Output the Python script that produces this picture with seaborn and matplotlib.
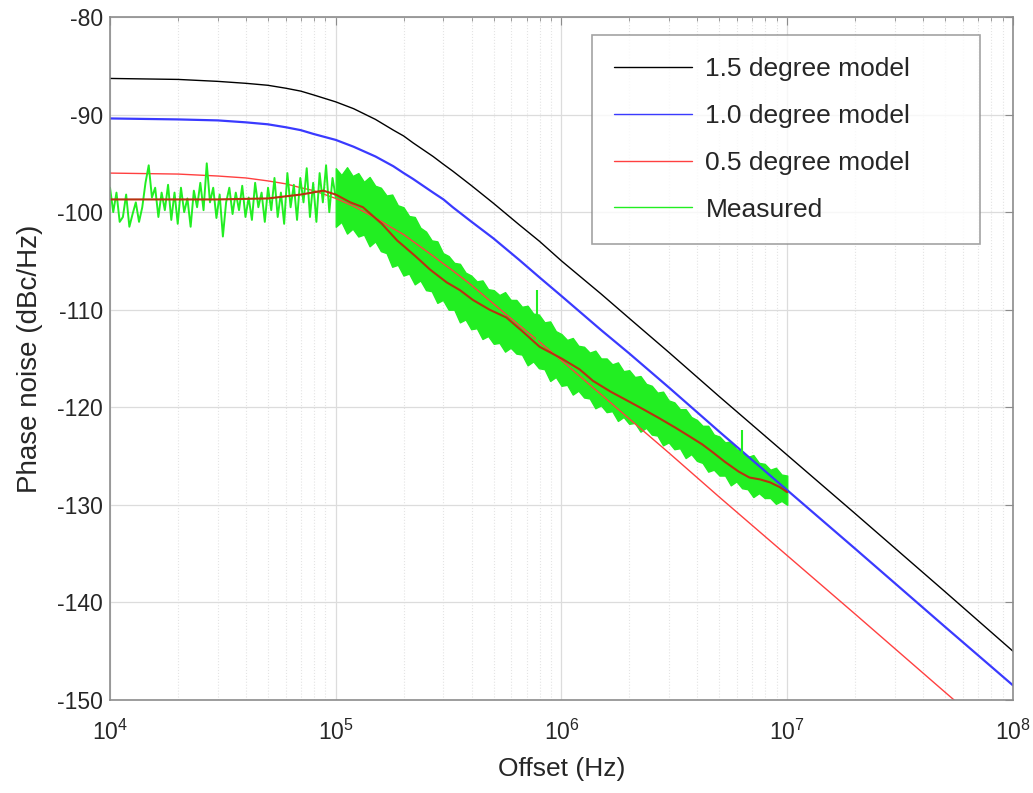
import numpy as np
import pandas as pd
import seaborn as sns
import matplotlib.pyplot as plt
from matplotlib.ticker import LogLocator, NullFormatter, MultipleLocator

# model curves (offset in Hz, phase noise in dBc/Hz)
model_freq = [1e4, 2e4, 3e4, 4e4, 5e4, 6e4, 7e4, 8e4, 1e5, 1.2e5, 1.5e5, 1.8e5, 2e5, 2.2e5,
              2.7e5, 3e5, 3.3e5, 4e5, 5e5, 6.5e5, 8e5, 1e6, 1.5e6, 2e6, 3e6, 5e6, 1e7,
              2e7, 5e7, 1e8]
model_15 = [-86.3, -86.4, -86.6, -86.8, -87.0, -87.3, -87.6, -88.0, -88.7, -89.4, -90.5,
            -91.6, -92.2, -92.9, -94.3, -95.1, -95.8, -97.3, -99.1, -101.3, -103.0, -105.0,
            -108.4, -110.9, -114.4, -118.9, -124.9, -130.9, -138.9, -145.0]
model_10 = [-90.4, -90.5, -90.6, -90.8, -91.0, -91.3, -91.6, -92.0, -92.6, -93.3, -94.3,
            -95.3, -96.0, -96.6, -98.0, -98.7, -99.5, -101.0, -102.7, -104.9, -106.7, -108.6,
            -112.1, -114.5, -118.0, -122.5, -128.5, -134.5, -142.5, -148.5]
model_05 = [-96.0, -96.1, -96.3, -96.5, -96.8, -97.1, -97.5, -97.8, -98.6, -99.4, -100.6,
            -101.7, -102.3, -103.0, -104.5, -105.3, -106.0, -107.5, -109.4, -111.6, -113.3,
            -115.2, -118.7, -121.2, -124.7, -129.2, -135.2, -141.2, -149.2, -155.2]

# measured trace, first decade (individual wiggles visible)
meas_low = [-97.5, -100.0, -98.0, -101.0, -100.5, -98.2, -101.5, -100.2, -99.0, -101.0,
            -99.5, -97.0, -95.2, -98.5, -97.5, -100.5, -98.0, -99.8, -97.2, -100.8,
            -98.0, -101.2, -97.5, -100.0, -98.6, -101.5, -97.8, -99.5, -97.0, -99.8,
            -95.0, -99.0, -97.5, -100.6, -98.2, -102.5, -99.0, -97.5, -100.2, -98.0,
            -99.8, -97.3, -100.5, -98.5, -100.8, -97.0, -99.5, -98.0, -101.0, -97.5,
            -99.8, -96.5, -100.5, -98.0, -101.2, -96.0, -99.5, -97.2, -100.8, -96.5,
            -99.0, -95.5, -100.5, -97.0, -101.0, -96.0, -99.0, -95.2, -100.0, -96.5,
            -98.5]
meas_low_freq = np.logspace(4, 5, len(meas_low))

# measured trace from 1e5 to 1e7: too dense to see single wiggles, read as a band
band_upper = [-95.5, -96.2, -95.4, -96.3, -96.0, -96.9, -96.4, -97.3,
              -97.5, -98.3, -98.2, -99.3, -99.5, -100.4, -100.5, -101.6,
              -102.0, -102.9, -103.0, -104.2, -104.5, -105.2, -105.3, -106.2,
              -106.5, -107.1, -107.0, -107.9, -108.0, -108.5, -108.2, -109.0,
              -109.0, -109.7, -109.6, -110.4, -110.5, -111.3, -111.2, -112.2,
              -112.5, -113.1, -112.9, -113.7, -113.8, -114.4, -114.2, -115.0,
              -115.0, -115.6, -115.4, -116.3, -116.2, -116.9, -116.8, -117.6,
              -117.8, -118.5, -118.4, -119.3, -119.5, -120.2, -120.2, -121.0,
              -121.3, -121.9, -121.9, -122.8, -123.0, -123.6, -123.5, -124.3,
              -124.5, -125.1, -124.9, -125.7, -125.8, -126.4, -126.2, -126.9,
              -127.0]
band_lower = [-101.5, -101.0, -102.2, -101.7, -102.5, -102.3, -103.5, -103.0,
              -104.0, -104.2, -105.6, -105.4, -106.5, -106.3, -107.4, -107.0,
              -108.0, -108.1, -109.3, -109.0, -110.0, -110.0, -111.3, -111.0,
              -112.0, -111.9, -113.0, -112.7, -113.5, -113.4, -114.3, -113.9,
              -114.5, -114.6, -115.7, -115.3, -116.0, -116.1, -117.3, -116.9,
              -117.8, -117.7, -118.7, -118.3, -119.0, -119.1, -120.1, -119.8,
              -120.5, -120.4, -121.4, -121.0, -121.7, -121.6, -122.5, -122.1,
              -122.8, -122.9, -123.9, -123.6, -124.3, -124.2, -125.2, -124.8,
              -125.5, -125.7, -126.6, -126.4, -127.0, -127.0, -128.0, -127.6,
              -128.3, -128.4, -129.2, -128.8, -129.3, -129.3, -129.9, -129.6,
              -130.0]
band_freq = np.logspace(5, 7, len(band_upper))

# narrow spurs sticking out of the band
spur_freq = [7.8e5, 6.3e6]
spur_top = [-108.0, -122.3]
spur_bottom = [-115.0, -127.0]

# smoothed measured trace (dark red)
smooth_freq = [1e4, 3e4, 5e4, 7e4, 8.8e4, 1.0e5, 1.16e5, 1.32e5, 1.6e5, 1.87e5, 2.25e5,
               2.62e5, 3.1e5, 3.55e5, 4.05e5, 4.8e5, 5.7e5, 6.7e5, 8.0e5, 1.0e6, 1.2e6,
               1.38e6, 1.65e6, 1.95e6, 2.3e6, 2.7e6, 3.2e6, 3.7e6, 4.2e6, 4.67e6, 5.3e6,
               6.1e6, 6.8e6, 7.6e6, 8.4e6, 9.3e6, 1.0e7]
smooth_val = [-98.7, -98.7, -98.6, -98.2, -97.8, -98.2, -99.0, -99.5, -101.2, -102.9, -104.5,
              -105.9, -107.2, -108.0, -109.0, -110.0, -110.8, -112.2, -113.8, -115.0, -116.1,
              -117.3, -118.4, -119.3, -120.2, -121.1, -122.1, -123.0, -123.8, -124.6, -125.6,
              -126.6, -127.2, -127.4, -127.7, -128.2, -128.7]

sns.set_style("white")
plt.rcParams['font.family'] = ['Liberation Sans', 'DejaVu Sans']
plt.rcParams['axes.unicode_minus'] = False

fig = plt.figure(figsize=(10.33, 7.93), dpi=100)
ax = fig.add_axes([0.1065, 0.1173, 0.8741, 0.8613])
ax.set_xscale('log')

green = '#22ee22'

sns.lineplot(x=model_freq, y=model_15, ax=ax, color='black', lw=1.0, label='1.5 degree model')
sns.lineplot(x=model_freq, y=model_10, ax=ax, color='#3a3aff', lw=1.6, label='1.0 degree model')
sns.lineplot(x=model_freq, y=model_05, ax=ax, color='#ff4040', lw=1.0, label='0.5 degree model')
sns.lineplot(x=meas_low_freq, y=meas_low, ax=ax, color=green, lw=1.4, label='Measured')
ax.fill_between(band_freq, band_lower, band_upper, color=green, lw=1.0, edgecolor=green)
ax.vlines(spur_freq, spur_bottom, spur_top, color=green, lw=1.5)
sns.lineplot(x=smooth_freq, y=smooth_val, ax=ax, color='#b8320f', lw=1.5, label='_smooth')

ax.set_xlim(1e4, 1e8)
ax.set_ylim(-150, -80)
ax.yaxis.set_major_locator(MultipleLocator(10))
ax.xaxis.set_major_locator(LogLocator(base=10, numticks=10))
ax.xaxis.set_minor_locator(LogLocator(base=10, subs=np.arange(2, 10), numticks=20))
ax.xaxis.set_minor_formatter(NullFormatter())

ax.grid(True, which='major', color='#dcdcdc', lw=0.9)
ax.grid(True, which='minor', axis='x', color='#e4e4e4', lw=0.8, ls=':')
ax.set_axisbelow(True)
for s in ax.spines.values():
    s.set_color('#8c8c8c')
    s.set_linewidth(1.2)
ax.tick_params(which='both', direction='in', top=True, right=True, colors='#8c8c8c',
               labelcolor='#262626', labelsize=16.5)
ax.tick_params(which='major', length=6)
ax.tick_params(which='minor', length=3)
ax.tick_params(axis='x', pad=14)
ax.tick_params(axis='y', pad=5)

ax.set_xlabel('Offset (Hz)', fontsize=19, color='#262626', labelpad=9)
ax.set_ylabel('Phase noise (dBc/Hz)', fontsize=20, color='#262626', labelpad=10)

leg = ax.legend(loc='upper left', bbox_to_anchor=(0.5338, 0.9736, 0.4297, 0.0), mode='expand',
                borderaxespad=0.0, fontsize=19, handlelength=2.95, handletextpad=0.5,
                labelspacing=0.86, borderpad=0.85, fancybox=False, frameon=True)
leg.get_frame().set_edgecolor('#8c8c8c')
leg.get_frame().set_linewidth(1.2)
for line in leg.get_lines():
    line.set_linewidth(1.0)

fig.savefig('out.png', dpi=100)
